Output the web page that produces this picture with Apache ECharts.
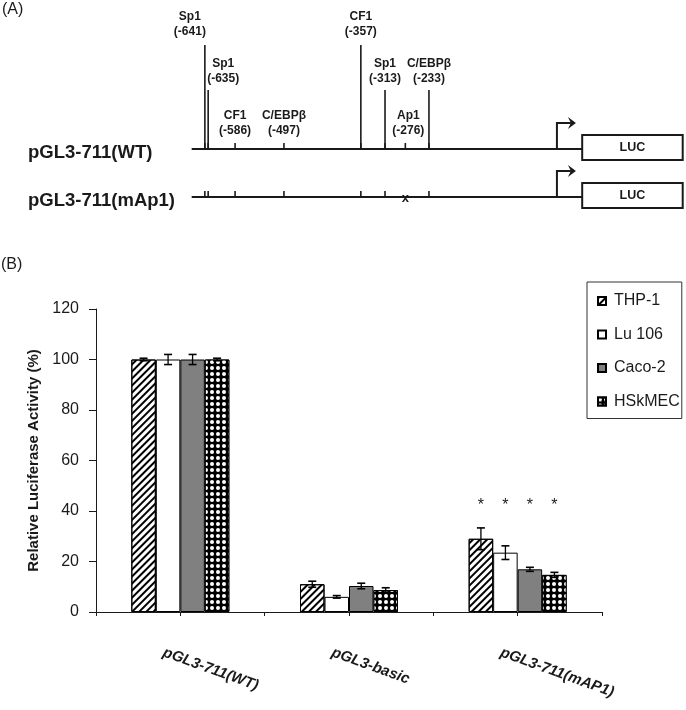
<!DOCTYPE html>
<html><head><meta charset="utf-8">
<script src="https://cdn.jsdelivr.net/npm/echarts@6/dist/echarts.min.js"></script>
<style>html,body{margin:0;padding:0;background:#fff}#c{width:686px;height:710px}</style>
</head><body><div id="c"></div>
<script>
// ---------- Panel B data ----------
const categories = ['pGL3-711(WT)', 'pGL3-basic', 'pGL3-711(mAP1)'];
const seriesNames = ['THP-1', 'Lu 106', 'Caco-2', 'HSkMEC'];
const thp1 = [100, 11, 29];
const thp1Err = [0.5, 1.2, 4.3];
const lu106 = [100, 6, 23.5];
const lu106Err = [2, 0.5, 2.7];
const caco2 = [100, 10.3, 16.9];
const caco2Err = [2, 1.1, 0.8];
const hskmec = [100, 8.7, 14.7];
const hskmecErr = [0.5, 0.9, 1];
const significant = [[2, 0], [2, 1], [2, 2], [2, 3]]; // [category, series]
const starLevel = 42;
const yMin = 0, yMax = 120, yStep = 20;

// ---------- Panel A data ----------
const siteNames = ['Sp1', 'Sp1', 'CF1', 'C/EBPβ', 'CF1', 'Sp1', 'Ap1', 'C/EBPβ'];
const sitePositions = [-641, -635, -586, -497, -357, -313, -276, -233];
const constructNames = ['pGL3-711(WT)', 'pGL3-711(mAp1)'];
const mutatedSite = [null, -276];
const promoterStart = -665, tssPos = 0, lucStart = 46, lucEnd = 229;

// ---------- layout (not data) ----------
const siteTier = [0, 1, 2, 2, 0, 1, 2, 1];
const siteLabelShift = [-15, 15, 0, 0, 0, 0, 3, 0];
const tierNameY = [17, 64, 116];
const tierPosY = [32, 79, 131];
const tierLineTop = [45, 90, null];
const rowY = [149, 197];
const BAR_W = 24.5;
const LABEL_SHIFT = 0.2; // category-label anchor shift (in half-category units)
const FONT = 'Liberation Sans, Arial, sans-serif';
const INK = '#1a1a1a';

const allVals = [thp1, lu106, caco2, hskmec];
const allErrs = [thp1Err, lu106Err, caco2Err, hskmecErr];

const decals = [
  {symbol: 'rect', symbolSize: 1, dashArrayX: [1, 0], dashArrayY: [1.3, 2.5], rotation: -Math.PI / 4, color: '#000'},
  null,
  null,
  {symbol: 'circle', symbolSize: 1, dashArrayX: [3.5, 1.5], dashArrayY: [3.5, 1.5], rotation: 0, color: '#fff'}
];
const fills = ['#fff', '#fff', '#808080', '#000'];

const barSeries = seriesNames.map((name, s) => ({
  name, type: 'bar', xAxisIndex: 0, yAxisIndex: 0,
  data: allVals[s], barWidth: BAR_W, barGap: '0%',
  itemStyle: Object.assign({color: fills[s], borderColor: '#000', borderWidth: 1},
    decals[s] ? {decal: decals[s]} : {}),
  z: 2
}));

const errData = [];
allVals.forEach((vals, s) => vals.forEach((v, c) => errData.push([c, v, allErrs[s][c], s])));

const errSeries = {
  type: 'custom', xAxisIndex: 0, yAxisIndex: 0, z: 5, silent: true,
  data: errData,
  renderItem: function (params, api) {
    const c = api.value(0), v = api.value(1), e = api.value(2), s = api.value(3);
    const x = api.coord([c, v])[0] + (s - 1.5) * BAR_W;
    const yT = api.coord([c, v + e])[1], yB = api.coord([c, v - e])[1];
    const hw = 4;
    return {type: 'group', children: [
      {type: 'line', shape: {x1: x, y1: yT, x2: x, y2: yB}, style: {stroke: '#000', lineWidth: 1.3}},
      {type: 'line', shape: {x1: x - hw, y1: yT, x2: x + hw, y2: yT}, style: {stroke: '#000', lineWidth: 1.6}},
      {type: 'line', shape: {x1: x - hw, y1: yB, x2: x + hw, y2: yB}, style: {stroke: '#000', lineWidth: 1.6}}
    ]};
  }
};

const starSeries = {
  type: 'custom', xAxisIndex: 0, yAxisIndex: 0, z: 5, silent: true,
  data: significant.map(d => [d[0], d[1], starLevel]),
  renderItem: function (params, api) {
    const c = api.value(0), s = api.value(1), lv = api.value(2);
    const p = api.coord([c, lv]);
    return {type: 'text', style: {text: '*', x: p[0] + (s - 1.5) * BAR_W, y: p[1],
      textAlign: 'center', textVerticalAlign: 'middle', font: '16px ' + FONT, fill: INK}};
  }
};

// Panel A: sites
const siteSeries = {
  type: 'custom', xAxisIndex: 2, yAxisIndex: 1, silent: true, z: 3,
  data: sitePositions.map((p, i) => [p, i]),
  renderItem: function (params, api) {
    const pos = api.value(0), i = api.value(1);
    const tier = siteTier[i];
    const x = api.coord([pos, 0])[0];
    const ch = [];
    rowY.forEach((ry, r) => {
      const y = api.coord([pos, ry])[1];
      if (mutatedSite[r] === pos) {
        ch.push({type: 'text', style: {text: 'x', x: x, y: y + 1, textAlign: 'center', textVerticalAlign: 'middle',
          font: 'bold 13px ' + FONT, fill: INK}});
      } else {
        ch.push({type: 'line', shape: {x1: x, y1: y, x2: x, y2: y - 6}, style: {stroke: INK, lineWidth: 1.6}});
      }
    });
    if (tierLineTop[tier] != null) {
      const yt = api.coord([pos, tierLineTop[tier]])[1], yb = api.coord([pos, rowY[0]])[1];
      ch.push({type: 'line', shape: {x1: x, y1: yt, x2: x, y2: yb}, style: {stroke: INK, lineWidth: 1.6}});
    }
    const lx = x + siteLabelShift[i];
    ch.push({type: 'text', style: {text: siteNames[i], x: lx, y: api.coord([pos, tierNameY[tier]])[1],
      textAlign: 'center', textVerticalAlign: 'middle', font: 'bold 12px ' + FONT, fill: INK}});
    ch.push({type: 'text', style: {text: '(' + pos + ')', x: lx, y: api.coord([pos, tierPosY[tier]])[1],
      textAlign: 'center', textVerticalAlign: 'middle', font: 'bold 12px ' + FONT, fill: INK}});
    return {type: 'group', children: ch};
  }
};

const rowSeries = {
  type: 'custom', xAxisIndex: 2, yAxisIndex: 1, silent: true, z: 3,
  data: constructNames.map((n, r) => [r]),
  renderItem: function (params, api) {
    const r = api.value(0);
    const ry = rowY[r];
    const y = api.coord([0, ry])[1];
    const x0 = api.coord([promoterStart, ry])[0];
    const xT = api.coord([tssPos, ry])[0];
    const xL = api.coord([lucStart, ry])[0];
    const xE = api.coord([lucEnd, ry])[0];
    const ay = y - 26;
    return {type: 'group', children: [
      {type: 'text', style: {text: constructNames[r], x: 28, y: y + 4, textAlign: 'left', textVerticalAlign: 'middle',
        font: 'bold 18.5px ' + FONT, fill: INK}},
      {type: 'line', shape: {x1: x0, y1: y, x2: xL, y2: y}, style: {stroke: INK, lineWidth: 2}},
      {type: 'polyline', shape: {points: [[xT, y], [xT, ay], [xT + 14, ay]]}, style: {stroke: INK, lineWidth: 2, fill: null}},
      {type: 'polygon', shape: {points: [[xT + 11, ay - 6], [xT + 19, ay], [xT + 11, ay + 6], [xT + 14, ay]]}, style: {fill: INK}},
      {type: 'rect', shape: {x: xL, y: y - 14, width: xE - xL, height: 25}, style: {stroke: INK, lineWidth: 2, fill: '#fff'}},
      {type: 'text', style: {text: 'LUC', x: (xL + xE) / 2, y: y - 1.5, textAlign: 'center', textVerticalAlign: 'middle',
        font: 'bold 12.5px ' + FONT, fill: INK}}
    ]};
  }
};

const tickValues = [];
for (let i = 0; i <= categories.length * 2; i++) tickValues.push(i);

const chart = echarts.init(document.getElementById('c'), null, {renderer: 'canvas'});
chart.setOption({
  animation: false,
  backgroundColor: '#fff',
  textStyle: {fontFamily: FONT},
  graphic: [
    {type: 'text', left: 2, top: 2, style: {text: '(A)', font: '16px ' + FONT, fill: INK}},
    {type: 'text', left: 1, top: 257, style: {text: '(B)', font: '16px ' + FONT, fill: INK}}
  ],
  legend: {
    data: seriesNames, orient: 'vertical', left: 587, top: 282,
    padding: [11, 2, 9, 10], itemGap: 17.5, itemWidth: 8, itemHeight: 8, icon: 'rect',
    borderColor: '#333', borderWidth: 1,
    textStyle: {fontSize: 16, lineHeight: 15, color: INK, fontFamily: FONT, padding: [0, 0, 0, 3]}
  },
  grid: [
    {left: 96, right: 84, top: 309, bottom: 98},
    {left: 0, right: 0, top: 0, bottom: 0}
  ],
  xAxis: [
    {type: 'category', gridIndex: 0, data: categories,
      axisLine: {lineStyle: {color: INK, width: 1}}, axisTick: {show: false}, axisLabel: {show: false}},
    {type: 'value', gridIndex: 0, min: 0, max: categories.length * 2, interval: 1, position: 'bottom',
      axisLine: {show: false}, splitLine: {show: false},
      axisTick: {show: true, length: 4, lineStyle: {color: INK}, customValues: tickValues},
      axisLabel: {show: true, rotate: -20, margin: 40, color: INK, fontSize: 15, fontWeight: 'bold', fontStyle: 'italic',
        customValues: categories.map((c, i) => 2 * i + 1 - LABEL_SHIFT),
        formatter: function (v) { return categories[Math.round((v + LABEL_SHIFT - 1) / 2)] || ''; }}},
    {type: 'value', gridIndex: 1, min: -1014, max: 235, show: false}
  ],
  yAxis: [
    {type: 'value', gridIndex: 0, min: yMin, max: yMax, interval: yStep,
      name: 'Relative Luciferase Activity (%)', nameLocation: 'middle', nameGap: 55,
      nameTextStyle: {fontSize: 15, fontWeight: 'bold', color: INK},
      axisLine: {show: true, lineStyle: {color: INK, width: 1}},
      axisTick: {show: true, length: 7, lineStyle: {color: INK}},
      axisLabel: {fontSize: 16, color: INK, margin: 17},
      splitLine: {show: false}},
    {type: 'value', gridIndex: 1, min: 0, max: 710, inverse: true, show: false}
  ],
  series: barSeries.concat([errSeries, starSeries, siteSeries, rowSeries])
});
</script>
</body></html>
